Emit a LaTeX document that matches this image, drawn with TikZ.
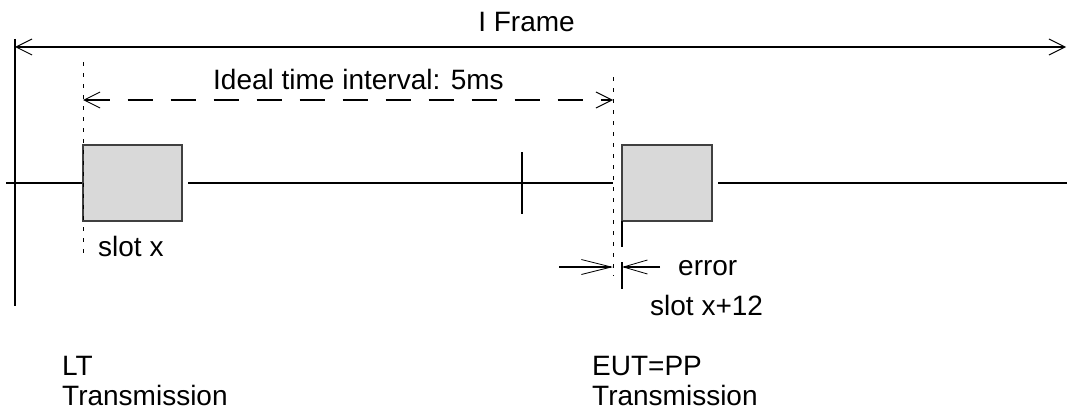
\documentclass[tikz,border=0pt]{standalone}
\usepackage{fontspec}
\setmainfont{Liberation Sans}
\usetikzlibrary{arrows.meta}
\definecolor{slotfill}{HTML}{D9D9D9}
\definecolor{slotdraw}{HTML}{404040}
\tikzset{
  lbl/.style={inner sep=0pt, font=\fontsize{28}{30}\selectfont},
  slotbox/.style={draw=slotdraw, line width=1.2pt, fill=slotfill, minimum width=#1, minimum height=76pt, inner sep=0pt},
  mainline/.style={line width=2.3pt},
  guide/.style={line width=1pt, dash pattern=on 4pt off 7pt},
  bigtip/.tip={Straight Barb[length=16pt,width=16pt,line width=1pt]},
  errtipA/.tip={Straight Barb[length=30pt,width=15pt,line width=0.8pt]},
  errtipB/.tip={Straight Barb[length=24pt,width=14pt,line width=0.8pt]},
}
\begin{document}
\begin{tikzpicture}[x=1pt,y=-1pt]
\useasboundingbox (0,0) rectangle (1067,412);
% coordinates
\coordinate (vtop) at (15,39);
\coordinate (vbot) at (15,306);
\coordinate (fl) at (15,47);
\coordinate (fr) at (1066,47);
\coordinate (d1t) at (83,62);
\coordinate (d1b) at (83,258);
\coordinate (d2t) at (613,77);
\coordinate (d2b) at (613,276);
\coordinate (il) at (83,100);
\coordinate (ir) at (613,100);
\coordinate (m0) at (6,183);
\coordinate (m1) at (188,183);
\coordinate (m2) at (613,183);
\coordinate (m3) at (718,183);
\coordinate (m4) at (1067,183);
\coordinate (tt) at (522,152);
\coordinate (tb) at (522,214);
\coordinate (e1) at (622,221);
\coordinate (e2) at (622,247);
\coordinate (e3) at (622,262);
\coordinate (e4) at (622,289);
\coordinate (al) at (559,267);
\coordinate (ar) at (660,267);
% slots
\node[slotbox=99pt] (s1) at (132.5,183) {};
\node[slotbox=90pt] (s2) at (667,183) {};
% frame
\draw[line width=2.5pt] (vtop) -- (vbot);
\draw[line width=2.2pt, bigtip-bigtip] (fl) -- (fr);
% guides
\draw[guide] (d1t) -- (d1b);
\draw[guide] (d2t) -- (d2b);
\draw[line width=1.3pt, dash pattern=on 25pt off 18pt, bigtip-bigtip] (il) -- (ir);
% main time line
\draw[mainline] (m0) -- (s1.west);
\draw[mainline] (m1) -- (m2);
\draw[mainline] (m3) -- (m4);
\draw[line width=2pt] (tt) -- (tb);
% error marker
\draw[line width=1.3pt] (e1) -- (e2);
\draw[line width=1.3pt] (e3) -- (e4);
\draw[line width=2pt, -errtipA] (al) -- (m2 |- al);
\draw[line width=2pt, -errtipB] (ar) -- (e1 |- ar);
% labels
\node[lbl, anchor=base] (tframe) at (526.5,32) {I Frame};
\node[lbl, anchor=base west] (tideal) at (213,89) {Ideal time interval: 5ms};
\node[lbl, anchor=base west] (tslot1) at (98,256) {slot x};
\node[lbl, anchor=base west] (terr) at (678,275) {error};
\node[lbl, anchor=base west] (tslot2) at (650,315) {slot x+12};
\node[lbl, anchor=north west, align=left] (tlt) at (62,356) {LT\\Transmission};
\node[lbl, anchor=north west, align=left] (teut) at (592,356) {EUT=PP\\Transmission};
\end{tikzpicture}
\end{document}
